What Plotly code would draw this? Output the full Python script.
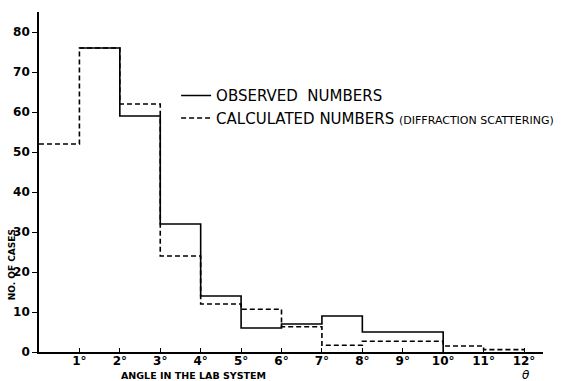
import plotly.graph_objects as go

# Angular bins (degrees, lab system)
obs_edges = [1, 2, 3, 4, 5, 6, 7, 8, 10]
obs_counts = [76, 59, 32, 14, 6, 7, 9, 5]
calc_edges = [0, 1, 2, 3, 4, 5, 6, 7, 8, 10, 11, 12]
calc_counts = [52, 76, 62, 24, 12, 10.7, 6.3, 1.7, 2.7, 1.5, 0.6]

y_ticks = [0, 10, 20, 30, 40, 50, 60, 70, 80]
x_ticks = list(range(1, 13))
x_tick_labels = [f"{d}°" for d in x_ticks]

FONT = "DejaVu Sans"


def step_xy(edges, counts, close_to_zero=False):
    xs = list(edges)
    ys = list(counts) + [counts[-1]]
    if close_to_zero:
        xs = xs + [edges[-1]]
        ys = ys + [0]
    return xs, ys


fig = go.Figure()

cx, cy = step_xy(calc_edges, calc_counts)
fig.add_trace(go.Scatter(
    x=cx, y=cy, mode="lines", line_shape="hv",
    line=dict(color="black", width=1.6, dash="5px,3px"),
    name="CALCULATED NUMBERS <span style='font-size:11px'>(DIFFRACTION SCATTERING)</span>",
))

ox, oy = step_xy(obs_edges, obs_counts, close_to_zero=True)
fig.add_trace(go.Scatter(
    x=ox, y=oy, mode="lines", line_shape="hv",
    line=dict(color="black", width=1.6),
    name="OBSERVED  NUMBERS",
))

fig.update_layout(
    width=561, height=381,
    margin=dict(l=39, r=18, t=12, b=29, autoexpand=False),
    paper_bgcolor="white", plot_bgcolor="white",
    font=dict(family=FONT, color="black"),
    showlegend=True,
    legend=dict(
        x=0.272, y=0.802, xanchor="left", yanchor="top",
        traceorder="reversed", bgcolor="rgba(0,0,0,0)",
        font=dict(size=15, family=FONT, color="black"),
        itemwidth=30, tracegroupgap=0,
    ),
    xaxis=dict(
        range=[0, 12.47], showgrid=False, zeroline=False,
        showline=True, linecolor="black", linewidth=1.6,
        tickvals=x_ticks, ticktext=x_tick_labels,
        ticks="inside", ticklen=4, tickwidth=1.3, tickcolor="black",
        ticklabelstandoff=-3,
        tickfont=dict(size=12, family=FONT, color="black", weight="bold"),
    ),
    yaxis=dict(
        range=[0, 85], showgrid=False, zeroline=False,
        showline=True, linecolor="black", linewidth=1.6,
        tickvals=y_ticks,
        ticks="outside", ticklen=5, tickwidth=1.3, tickcolor="black",
        ticklabelstandoff=0,
        tickfont=dict(size=12, family=FONT, color="black", weight="bold"),
    ),
    annotations=[
        dict(text="<b>ANGLE IN THE LAB SYSTEM</b>",
             x=(193 - 39) / 504, y=-0.068,
             xref="paper", yref="paper", showarrow=False,
             xanchor="center", yanchor="middle",
             font=dict(size=9.5, family=FONT)),
        dict(text="<b>NO. OF CASES</b>", x=-0.053, y=0.256,
             xref="paper", yref="paper", showarrow=False, textangle=-90,
             xanchor="center", yanchor="middle",
             font=dict(size=9, family=FONT)),
        dict(text="<i>θ</i>", x=12.05, y=-0.068,
             xref="x", yref="paper", showarrow=False,
             xanchor="center", yanchor="middle",
             font=dict(size=12, family=FONT)),
    ],
)

fig.write_html("out.html")
